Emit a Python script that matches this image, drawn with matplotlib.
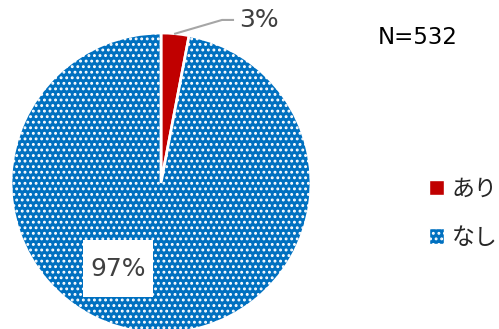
import matplotlib.pyplot as plt
import matplotlib.patches as mpatches
import numpy as np

plt.rcParams['font.family'] = ['Noto Sans CJK JP', 'DejaVu Sans']
plt.rcParams['hatch.color'] = 'white'
plt.rcParams['hatch.linewidth'] = 1.3

labels = ['あり', 'なし']
values = [3, 97]
colors = ['#C00000', '#0070C0']
n_text = 'N=532'

W, H = 499, 329
fig = plt.figure(figsize=(W / 100, H / 100), dpi=100)

# pie centre (161,183) px, radius 150 px
cx, cy, r = 161, 183, 150
ax = fig.add_axes([(cx - r) / W, (H - cy - r) / H, 2 * r / W, 2 * r / H])

wedges, _ = ax.pie(values, colors=colors, startangle=90, counterclock=False,
                   wedgeprops=dict(edgecolor='white', linewidth=2))
for w in wedges:
    w.set_clip_on(False)
wedges[1].set_hatch('...')
ax.set_xlim(-1, 1)
ax.set_ylim(-1, 1)
ax.set_aspect('equal')
ax.axis('off')

# 3% label with leader line
ang = np.deg2rad(90 - values[0] / sum(values) * 360 / 2)
x0, y0 = np.cos(ang), np.sin(ang)
ax.plot([x0, 0.407, 0.48], [y0, 1.087, 1.087], color='#A6A6A6', lw=1.5, clip_on=False)
ax.text(0.52, 1.087, f'{values[0]}%', fontsize=18, color='#404040',
        ha='left', va='center', family=['DejaVu Sans'], clip_on=False)

# 97% label in white box
lx, ly = -0.287, -0.57
ax.add_patch(mpatches.Rectangle((lx - 0.234, ly - 0.19), 0.468, 0.38,
                                facecolor='white', edgecolor='none', zorder=3))
ax.text(lx, ly, f'{values[1]}%', fontsize=18, color='#404040',
        ha='center', va='center', family=['DejaVu Sans'], zorder=4)

fig.text(418 / W, 1 - 37 / H, n_text, fontsize=16.5, color='#000000',
         ha='center', va='center', family=['DejaVu Sans'])

# legend
handles = [mpatches.Patch(facecolor=colors[0], edgecolor='white'),
           mpatches.Patch(facecolor=colors[1], edgecolor='white', hatch='...')]
fig.legend(handles, labels, loc='center left', bbox_to_anchor=(429 / W, 1 - 213.5 / H),
           frameon=False, fontsize=16.5, handlelength=0.65, handleheight=0.65,
           handletextpad=0.35, labelspacing=1.1, borderpad=0, borderaxespad=0,
           labelcolor='#262626')

fig.savefig('out.png', dpi=100)
